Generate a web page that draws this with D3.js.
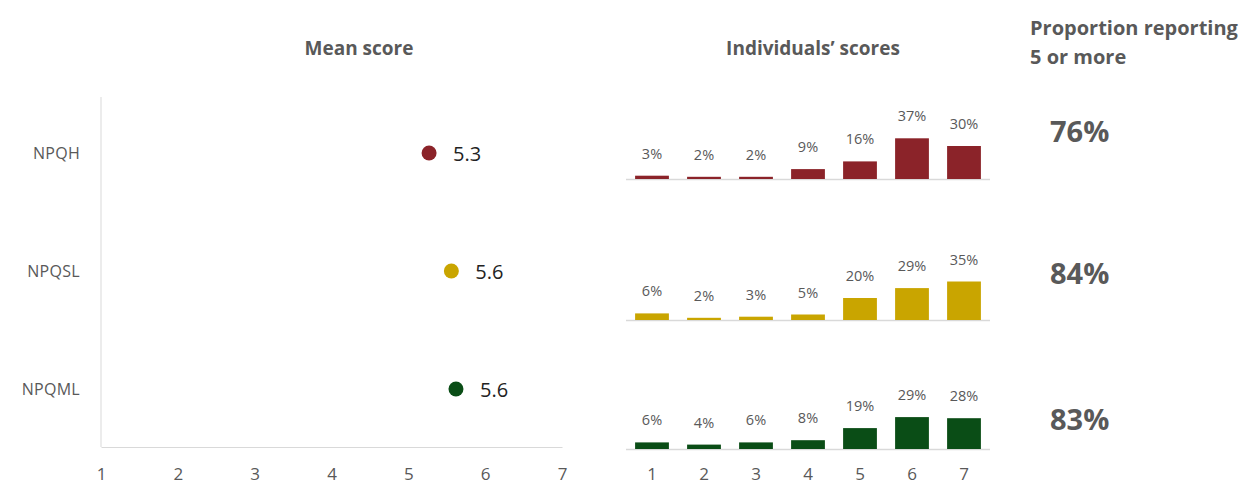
<!DOCTYPE html>
<html>
<head>
<meta charset="utf-8">
<script src="https://cdn.jsdelivr.net/npm/d3@7"></script>
<style>
  body { margin: 0; background: #fff; }
  svg { font-family: "Open Sans", Lato, sans-serif; }
</style>
</head>
<body>
<div id="container"></div>
<script>
const categories = ["NPQH", "NPQSL", "NPQML"];
const meanScores = [5.27, 5.56, 5.62];
const scorePoints = [1, 2, 3, 4, 5, 6, 7];
const distNPQH = [3, 2, 2, 9, 16, 37, 30];
const distNPQSL = [6, 2, 3, 5, 20, 29, 35];
const distNPQML = [6, 4, 6, 8, 19, 29, 28];
const proportion5Plus = [76, 84, 83];
const seriesColors = ["#8b2329", "#c9a500", "#0a4d16"];

const dists = [distNPQH, distNPQSL, distNPQML];

let svg = d3.select("#container").append("svg")
  .attr("width", 1248).attr("height", 485);

// headers
svg.append("text").attr("x", 359).attr("y", 55).attr("text-anchor", "middle")
  .attr("font-size", 19).attr("font-weight", "bold").attr("fill", "#595959")
  .text("Mean score");
svg.append("text").attr("x", 813).attr("y", 55).attr("text-anchor", "middle")
  .attr("font-size", 19).attr("font-weight", "bold").attr("fill", "#595959")
  .text("Individuals’ scores");
svg.append("text").attr("x", 1030).attr("y", 35)
  .attr("font-size", 20).attr("font-weight", "bold").attr("fill", "#595959")
  .text("Proportion reporting");
svg.append("text").attr("x", 1030).attr("y", 64)
  .attr("font-size", 20).attr("font-weight", "bold").attr("fill", "#595959")
  .text("5 or more");

// mean score panel
let xMean = d3.scaleLinear().domain([1, 7]).range([101, 562]);
let yMean = d3.scalePoint().domain(categories).range([153, 389]);

svg.append("line").attr("x1", 101).attr("x2", 101).attr("y1", 97).attr("y2", 447)
  .attr("stroke", "#d9d9d9");
let xAxis = svg.append("g").attr("transform", "translate(0,447)")
  .call(d3.axisBottom(xMean).ticks(7).tickSize(0).tickPadding(21).tickFormat(d3.format("d")));
xAxis.select(".domain").attr("stroke", "#d9d9d9");
xAxis.selectAll("text").attr("font-size", 17).attr("fill", "#595959")
  .attr("font-family", "Open Sans, sans-serif");

svg.selectAll(".cat").data(categories).enter().append("text")
  .attr("x", 80).attr("y", (d) => yMean(d) + 6).attr("text-anchor", "end")
  .attr("font-size", 16).attr("fill", "#595959").attr("letter-spacing", 0.3)
  .text((d) => d);

svg.selectAll(".dot").data(meanScores).enter().append("circle")
  .attr("cx", (d) => xMean(d)).attr("cy", (d, i) => yMean(categories[i]))
  .attr("r", 7.5).attr("fill", (d, i) => seriesColors[i]);

svg.selectAll(".meanLabel").data(meanScores).enter().append("text")
  .attr("x", (d) => xMean(d) + 24).attr("y", (d, i) => yMean(categories[i]) + 8)
  .attr("font-size", 20).attr("fill", "#222")
  .text((d) => d.toFixed(1));

// individuals' scores panel
let xBar = d3.scaleBand().domain(scorePoints).range([626, 990])
  .paddingInner(0.35).paddingOuter(0.175);
let baseY = d3.scaleOrdinal().domain(categories).range([179, 320, 449]);
let hScale = d3.scaleLinear().domain([0, 100]).range([0, 110]);

categories.forEach((cat, i) => {
  let base = baseY(cat);
  let g = svg.append("g");
  g.append("line").attr("x1", 626).attr("x2", 990).attr("y1", base + 0.5).attr("y2", base + 0.5)
    .attr("stroke", "#d9d9d9").attr("stroke-width", 1.5);
  g.selectAll("rect").data(dists[i]).enter().append("rect")
    .attr("x", (d, j) => xBar(scorePoints[j]))
    .attr("y", (d) => base - hScale(d))
    .attr("width", xBar.bandwidth())
    .attr("height", (d) => hScale(d))
    .attr("fill", seriesColors[i]);
  g.selectAll("text").data(dists[i]).enter().append("text")
    .attr("x", (d, j) => xBar(scorePoints[j]) + xBar.bandwidth() / 2)
    .attr("y", (d) => base - hScale(d) - 17)
    .attr("text-anchor", "middle").attr("font-size", 14.5).attr("fill", "#595959")
    .text((d) => d + "%");
});

let barAxis = svg.append("g").attr("transform", "translate(0,449)")
  .call(d3.axisBottom(xBar).tickSize(0).tickPadding(19));
barAxis.select(".domain").remove();
barAxis.selectAll("text").attr("font-size", 17).attr("fill", "#595959")
  .attr("font-family", "Open Sans, sans-serif");

// proportion column
let propY = d3.scaleOrdinal().domain(categories).range([142, 284, 430]);
svg.selectAll(".prop").data(proportion5Plus).enter().append("text")
  .attr("x", 1050).attr("y", (d, i) => propY(categories[i]))
  .attr("font-size", 29).attr("font-weight", "bold").attr("fill", "#595959")
  .text((d) => d + "%");
</script>
</body>
</html>
